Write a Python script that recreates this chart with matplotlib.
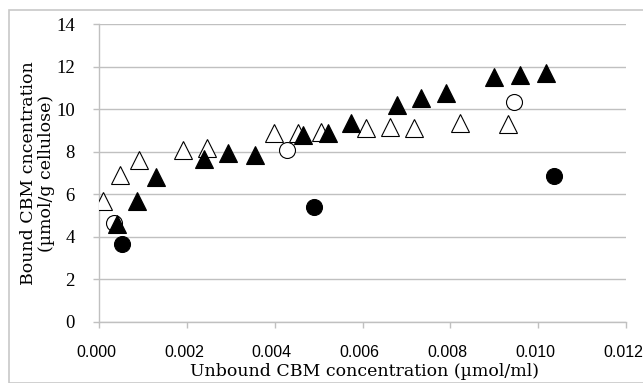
import matplotlib
matplotlib.use("Agg")
import matplotlib.pyplot as plt
import matplotlib.transforms as mtransforms
from matplotlib.patches import Rectangle

# Data
open_tri_x = [0.00010, 0.00047, 0.00090, 0.00192, 0.00245, 0.00398, 0.00452, 0.00506,
              0.00609, 0.00662, 0.00717, 0.00823, 0.00932]
open_tri_y = [5.68, 6.89, 7.63, 8.07, 8.19, 8.90, 8.90, 8.92,
              9.10, 9.15, 9.10, 9.34, 9.29]

filled_tri_x = [0.00042, 0.00087, 0.00129, 0.00238, 0.00293, 0.00355, 0.00464, 0.00522,
                0.00573, 0.00679, 0.00734, 0.00790, 0.00899, 0.00958, 0.01017]
filled_tri_y = [4.58, 5.67, 6.80, 7.65, 7.94, 7.86, 8.80, 8.89,
                9.37, 10.20, 10.52, 10.78, 11.54, 11.62, 11.72]

open_circ_x = [0.00034, 0.00428, 0.00946]
open_circ_y = [4.66, 8.08, 10.34]

filled_circ_x = [0.00052, 0.00489, 0.01035]
filled_circ_y = [3.64, 5.42, 6.87]

x_ticks = [0.000, 0.002, 0.004, 0.006, 0.008, 0.010, 0.012]
x_tick_labels = ["0.000", "0.002", "0.004", "0.006", "0.008", "0.010", "0.012"]
y_ticks = [0, 2, 4, 6, 8, 10, 12, 14]

x_label = "Unbound CBM concentration (µmol/ml)"
y_label = "Bound CBM cncentration\n(µmol/g cellulose)"

W, H = 643, 383
fig = plt.figure(figsize=(W / 100, H / 100), dpi=100)
fig.patch.set_facecolor("white")

# chart-area border
fig.patches.append(Rectangle((9 / W, 0), 1.2, 1 - 10 / H, transform=fig.transFigure,
                             fill=False, edgecolor="#c8c8c8", linewidth=1.2))

ax = fig.add_axes([99 / W, 1 - 321.7 / H, 527 / W, 297.4 / H])
grid_c = "#c0c0c0"

ax.set_xlim(0, 0.012)
ax.set_ylim(0, 14)
ax.set_xticks(x_ticks)
ax.set_xticklabels(x_tick_labels, family=["Liberation Sans"], fontsize=11.5)
ax.set_yticks(y_ticks)
ax.set_yticklabels([str(v) for v in y_ticks], family=["Liberation Serif"], fontsize=13.5)

ax.yaxis.grid(True, color=grid_c, linewidth=1.0)
ax.set_axisbelow(True)
for s in ["top", "right"]:
    ax.spines[s].set_visible(False)
for s in ["left", "bottom"]:
    ax.spines[s].set_color(grid_c)
    ax.spines[s].set_linewidth(1.0)
ax.tick_params(axis="both", color=grid_c, length=4.3, width=1.0, direction="out",
               labelcolor="black")
ax.tick_params(axis="y", pad=13)
ax.tick_params(axis="x", pad=12.5)

shift = mtransforms.ScaledTranslation(-3 / 100, 0, fig.dpi_scale_trans)
for lbl in ax.get_xticklabels():
    lbl.set_transform(lbl.get_transform() + shift)

ax.plot(open_tri_x, open_tri_y, linestyle="none", marker="^", markersize=12.5,
        markerfacecolor="white", markeredgecolor="black", markeredgewidth=0.8, zorder=3)
ax.plot(open_circ_x, open_circ_y, linestyle="none", marker="o", markersize=11.5,
        markerfacecolor="white", markeredgecolor="black", markeredgewidth=0.8, zorder=3)
ax.plot(filled_tri_x, filled_tri_y, linestyle="none", marker="^", markersize=12.5,
        markerfacecolor="black", markeredgecolor="black", markeredgewidth=0.8, zorder=4)
ax.plot(filled_circ_x, filled_circ_y, linestyle="none", marker="o", markersize=11.5,
        markerfacecolor="black", markeredgecolor="black", markeredgewidth=0.8, zorder=4)

fig.text(365 / W, 1 - 372 / H, x_label, family="DejaVu Serif", fontsize=12.5,
         ha="center", va="center")
fig.text(37.5 / W, 1 - 173 / H, y_label, family="DejaVu Serif", fontsize=12.5,
         ha="center", va="center", rotation=90, multialignment="center", linespacing=1.05)

fig.savefig("out.png", dpi=100, facecolor="white")
